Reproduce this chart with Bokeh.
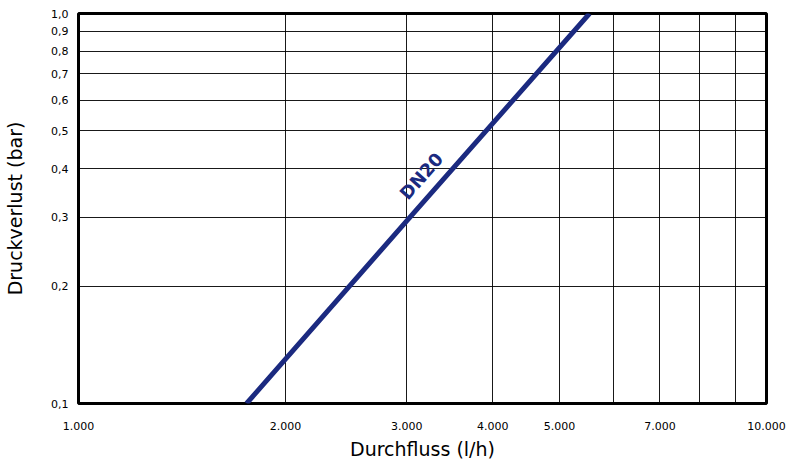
from bokeh.plotting import figure
from bokeh.models import Range1d, FixedTicker, Label
from bokeh.embed import file_html
from bokeh.resources import INLINE

# Data
flow_lh = [1755, 3000, 5530]          # Durchfluss (l/h)
dp_bar = [0.1, 0.294, 1.0]            # Druckverlust (bar)
series_name = "DN20"

x_label_ticks = [1000, 2000, 3000, 4000, 5000, 7000, 10000]
x_label_texts = ["1.000", "2.000", "3.000", "4.000", "5.000", "7.000", "10.000"]
x_grid_ticks = [2000, 3000, 4000, 5000, 6000, 7000, 8000, 9000]

y_label_ticks = [0.1, 0.2, 0.3, 0.4, 0.5, 0.6, 0.7, 0.8, 0.9, 1.0]
y_label_texts = ["0,1", "0,2", "0,3", "0,4", "0,5", "0,6", "0,7", "0,8", "0,9", "1,0"]
y_grid_ticks = [0.2, 0.3, 0.4, 0.5, 0.6, 0.7, 0.8, 0.9]

FONT = "DejaVu Sans"
NAVY = "#1b2a80"

p = figure(width=791, height=462, x_axis_type="log", y_axis_type="log",
           x_range=Range1d(1000, 10000), y_range=Range1d(0.1, 1.0),
           output_backend="svg", toolbar_location=None,
           min_border_left=78, min_border_top=13, min_border_right=25, min_border_bottom=58)

p.outline_line_color = "black"
p.outline_line_width = 3
p.background_fill_color = "white"
p.border_fill_color = "white"

p.xaxis.ticker = FixedTicker(ticks=x_label_ticks)
p.yaxis.ticker = FixedTicker(ticks=y_label_ticks)
p.xaxis.major_label_overrides = {float(t): s for t, s in zip(x_label_ticks, x_label_texts)}
p.yaxis.major_label_overrides = {float(t): s for t, s in zip(y_label_ticks, y_label_texts)}

p.xgrid.ticker = FixedTicker(ticks=x_grid_ticks)
p.ygrid.ticker = FixedTicker(ticks=y_grid_ticks)
for g in (p.xgrid, p.ygrid):
    g.grid_line_color = "black"
    g.grid_line_width = 1
    g.grid_line_alpha = 0.9

for ax in (p.xaxis, p.yaxis):
    ax.axis_line_color = None
    ax.major_tick_line_color = None
    ax.minor_tick_line_color = None
    ax.major_tick_out = 0
    ax.minor_tick_out = 0
    ax.major_label_text_font = FONT
    ax.major_label_text_font_size = "11px"
    ax.major_label_text_color = "black"
    ax.axis_label_text_font = FONT
    ax.axis_label_text_font_size = "19px"
    ax.axis_label_text_font_style = "normal"
    ax.axis_label_text_color = "black"

p.xaxis.axis_label = "Durchfluss (l/h)"
p.yaxis.axis_label = "Druckverlust (bar)"
p.xaxis.major_label_standoff = 18
p.xaxis.axis_label_standoff = 5
p.yaxis.major_label_standoff = 10
p.yaxis.axis_label_standoff = 22

p.line(flow_lh, dp_bar, line_color=NAVY, line_width=5)

p.add_layout(Label(x=3150, y=0.383, text=series_name, angle=48.8, angle_units="deg",
                   text_align="center", text_baseline="middle",
                   text_font=FONT, text_font_size="18px", text_font_style="bold",
                   text_color=NAVY))

open("out.html", "w").write(file_html(p, INLINE))
